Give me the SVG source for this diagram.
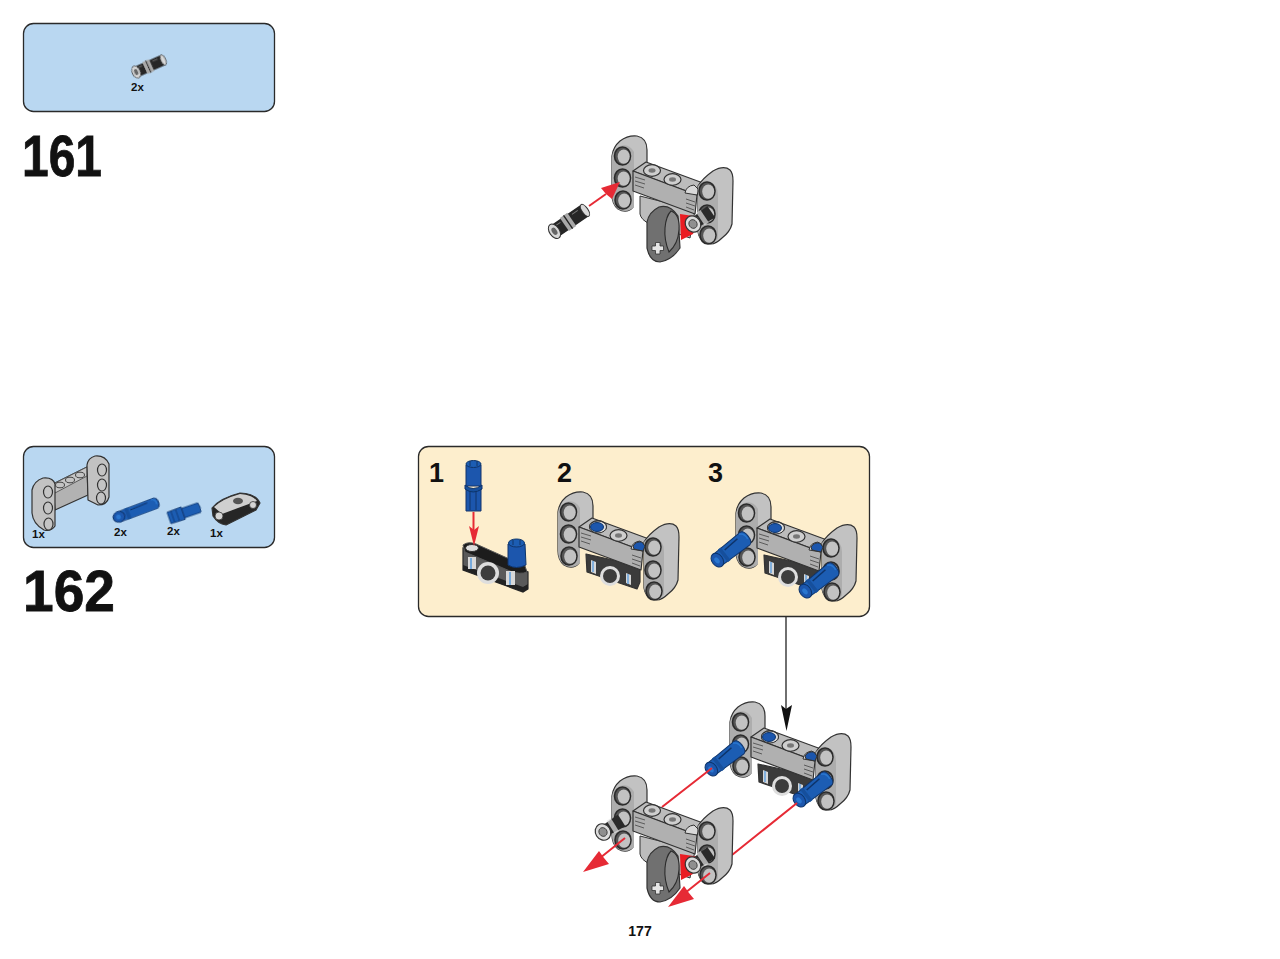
<svg xmlns="http://www.w3.org/2000/svg" xmlns:xlink="http://www.w3.org/1999/xlink" width="1280" height="959" viewBox="0 0 1280 959">
<style>
.box{stroke:#2a2a2a;stroke-width:1.3}
.blue{fill:#b9d7f1}
.cream{fill:#fdeecd}
.t{font-family:"Liberation Sans",Arial,sans-serif;font-weight:700;fill:#111}
.big{font-size:58px;stroke:#111;stroke-width:.8}
.num{font-size:27px}
.qty{font-size:11.5px}
.o{stroke:#333;stroke-width:1.2;stroke-linejoin:round}
.soft{filter:url(#soft)}
.red{stroke:#e62a35;stroke-width:2;fill:none}
.redf{fill:#e62a35}
.tick{stroke:#444;stroke-width:.8;fill:none}
</style>
<defs>
<filter id="soft" x="-5%" y="-5%" width="110%" height="110%"><feGaussianBlur stdDeviation="0.4"/></filter>
<g id="h">
<ellipse rx="8" ry="9" fill="#555" stroke="#2c2c2c" stroke-width="1.600"/>
<ellipse cx="1.200" cy=".6" rx="6" ry="7.200" fill="#c2c2c2"/>
</g>
<g id="frameBack">
<path class="o" d="M612 156Q613 147 620 141Q628 135 637 136Q647 138 647 150L647 166L633 172L633 207Q627 214 618 209Q612 204 612 195Z" fill="#c2c2c2"/>
<path d="M612 156Q613 149 620 146Q629 143 634 152L634 207Q627 214 618 209Q612 204 612 195Z" fill="#adadad"/>
<use xlink:href="#h" x="622.500" y="156"/>
<use xlink:href="#h" x="622.500" y="178"/>
<use xlink:href="#h" x="623" y="200"/>
</g>
<g id="frameFront">
<path class="o" d="M633 171L646 162L703 183L697 195Z" fill="#bcbcbc"/>
<path class="o" d="M633 171L697 195L695 214L633 191Z" fill="#b0b0b0"/>
<path class="tick" d="M635 177l10 3M635 181l10 3M635 185l9 3M686 199l9 3M686 203l9 3M686 207l8 3"/>
<ellipse cx="652" cy="170.500" rx="8.500" ry="5.800" fill="#cfcfcf" stroke="#333" stroke-width="1.200"/>
<ellipse cx="652" cy="170.500" rx="3.500" ry="2.200" fill="#777"/>
<ellipse cx="672.500" cy="179.500" rx="8.500" ry="5.800" fill="#cfcfcf" stroke="#333" stroke-width="1.200"/>
<ellipse cx="672.500" cy="179.500" rx="3.500" ry="2.200" fill="#777"/>
<path d="M685 193Q686 186 694 185L699 190L697 195Z" fill="#d8d8d8" stroke="#333"/>
<path class="o" d="M698 186Q703 178 713 171Q724 165 730 170Q733 173 733 181L732 224Q730 232 722 238Q714 246 707 243Q699 240 698 232Z" fill="#c2c2c2"/>
<path d="M698 186Q703 180 708 181Q718 184 718 195L718 238Q714 246 707 243Q699 240 698 232Z" fill="#adadad"/>
<use xlink:href="#h" x="707" y="191"/>
<use xlink:href="#h" x="707" y="214"/>
<use xlink:href="#h" x="708" y="235"/>
</g>
<g id="conn">
<path class="o" d="M640 198L641 216L691 233L694 226L694 210Z" fill="#3a3a3a"/>
<path d="M645 204l5 2v12l-5 -2zM680 217l5 2v10l-5 -2z" fill="#d6d6d6"/>
<path d="M647 205v11M682 218v10" stroke="#6ea6dc" stroke-width="1.600"/>
<circle cx="664" cy="220" r="10" fill="#dedede"/>
<circle cx="664" cy="220" r="7" fill="#3d3d3d"/>
</g>
<g id="lever">
<path d="M640 196L640 214Q641 220 650 224L690 238L695 210Z" fill="#bcbcbc" stroke="#333"/>
<path d="M680 214L700 217L693 234L681 240Z" fill="#ea1c24"/>
<path class="o" d="M647 222Q649 212 659 207Q670 204 678 216L680 248Q672 260 660 262Q650 262 647 248Z" fill="#707070"/>
<path d="M671 211Q680 214 679 230Q678 244 669 252Q664 240 665 228Q666 216 671 211Z" fill="#8a8a8a" stroke="#2c2c2c" stroke-width="1.100"/>
<path d="M652 246h3.500v-3.500h4.500v3.500h3.500v4.500h-3.500v3.500h-4.500v-3.500h-3.500z" fill="#e4e4e4" stroke="#333" stroke-width=".8"/>
</g>
<g id="stubPin">
<path d="M0 -5.500L22 -7L22 7L0 5.500Z" fill="#2b2b2b"/>
<path d="M9 -7.500h5v15h-5z" fill="#e2e2e2" opacity=".7"/>
<ellipse rx="7.500" ry="8.500" fill="#dcdcdc" stroke="#333" stroke-width="1.200"/>
<ellipse rx="4" ry="4.500" fill="#8f8f8f" stroke="#333" stroke-width=".8"/>
</g>
<g id="blackPin">
<rect x="2" y="-7" width="38" height="14" rx="2" fill="#262626"/>
<path d="M15 -8h9v16h-9z" fill="#a8a8a8"/>
<path d="M19.500 -8v16" stroke="#222" stroke-width="1.400"/>
<path d="M8 -4h5M27 -4h7" stroke="#777" stroke-width="1"/>
<ellipse cx="3" rx="5" ry="8" fill="#d8d8d8" stroke="#333"/>
<ellipse cx="3" rx="2.400" ry="4" fill="#666"/>
<ellipse cx="40" rx="3" ry="7" fill="#d8d8d8" stroke="#333"/>
</g>
<g id="bluePin">
<path d="M3 -7L38 -8Q42 -7.500 42 0Q42 7.500 38 8L3 7Z" fill="#1c5db3" stroke="#10346a" stroke-width="1"/>
<path d="M15 -3.500L32 -4.500" stroke="#10346a" stroke-width="1.600"/>
<path d="M10 -8h3.500v16h-3.500z" fill="#154f9c"/>
<ellipse cx="3" rx="5.500" ry="7.500" fill="#1a56ad" stroke="#10346a" stroke-width="1"/>
<ellipse cx="2.500" rx="2.200" ry="3.400" fill="#2a76cf"/>
<path d="M36 -7Q41 -5 40 2" stroke="#2a76cf" stroke-width="1.500" fill="none"/>
</g>
<g id="blueTop">
<ellipse cx="652" cy="171" rx="8.500" ry="6" fill="#d8d8d8" stroke="#333"/>
<ellipse cx="651" cy="171" rx="6.500" ry="4.500" fill="#1a56ad" stroke="#10346a"/>
<path d="M687 190Q690 185 696 186L699 190L697 195L688 193Z" fill="#1a56ad" stroke="#333"/>
</g>
</defs>

<g id="panel-161">
<rect class="box blue" x="23.500" y="23.500" width="251" height="88" rx="10"/>
<use class="soft" xlink:href="#blackPin" transform="translate(134 73) rotate(-24) scale(.8)"/>
<text class="t qty" x="131" y="91">2x</text>
</g>
<text id="num-161" class="t big" x="22" y="176" textLength="80" lengthAdjust="spacingAndGlyphs">161</text>

<g id="step-161" class="soft">
<use xlink:href="#frameBack"/>
<use xlink:href="#lever"/>
<use xlink:href="#frameFront"/>
<use xlink:href="#stubPin" transform="translate(693 224) rotate(-34)"/>
<use xlink:href="#blackPin" transform="translate(552 233) rotate(-34.500)"/>
<path class="red" d="M589 206L606 194"/>
<path class="redf" d="M620 182L601 188L606 194L612 199Z"/>
</g>

<g id="panel-162">
<rect class="box blue" x="23.500" y="446.500" width="251" height="101" rx="10"/>
<g id="part-frame" class="soft">
<path class="o" d="M53 484L87 467L88 495L55 510Z" fill="#b2b2b2"/>
<path d="M53 484L87 467L87 476L55 493Z" fill="#c6c6c6" stroke="#444" stroke-width=".8"/>
<path class="o" d="M87 465Q88 458 95 456Q105 455 109 464L109 497Q107 505 98 505L88 500Z" fill="#c2c2c2"/>
<path class="o" d="M32 490Q34 481 43 478Q53 477 55 484L55 526Q51 532 44 530Q33 524 32 513Z" fill="#c2c2c2"/>
<g fill="#c4c4c4" stroke="#333" stroke-width="1.200">
<ellipse cx="48" cy="492" rx="4.500" ry="6"/>
<ellipse cx="48" cy="508" rx="4.500" ry="6"/>
<ellipse cx="48.500" cy="524" rx="4.500" ry="6"/>
<ellipse cx="102" cy="470" rx="4.500" ry="6"/>
<ellipse cx="102" cy="485" rx="4.500" ry="6"/>
<ellipse cx="101" cy="498" rx="4.500" ry="6"/>
<ellipse cx="60" cy="485" rx="4.500" ry="2.800" stroke-width=".9"/>
<ellipse cx="70" cy="480" rx="4.500" ry="2.800" stroke-width=".9"/>
<ellipse cx="80" cy="475" rx="4.500" ry="2.800" stroke-width=".9"/>
</g>
</g>
<use class="soft" xlink:href="#bluePin" transform="translate(116 518) rotate(-20.500) scale(1.080 .72)"/>
<g class="soft" transform="translate(169 518) rotate(-19)">
<path d="M0 -6L15 -6.500L15 6.500L0 6Z" fill="#1c5db3" stroke="#10346a" stroke-width=".8"/>
<path d="M15 -5L32 -5Q34 0 32 5L15 5Z" fill="#1c5db3" stroke="#10346a" stroke-width=".8"/>
<path d="M4 -6v12M9 -6v12" stroke="#10346a" stroke-width=".7"/>
</g>
<g id="part-conn" class="soft">
<path class="o" d="M212 508Q220 498 240 493Q255 493 260 503L256 510L226 525Q218 524 213 516Z" fill="#262626"/>
<path d="M214 507Q222 499 240 494Q253 495 257 501L238 508L222 514Z" fill="#cfcfcf"/>
<ellipse cx="238" cy="501" rx="5" ry="3.200" fill="#555"/>
<circle cx="219" cy="516" r="4" fill="#d4d4d4" stroke="#333" stroke-width=".8"/>
<circle cx="253" cy="505" r="3.500" fill="#d4d4d4" stroke="#333" stroke-width=".8"/>
</g>
<text class="t qty" x="32" y="538">1x</text>
<text class="t qty" x="114" y="536">2x</text>
<text class="t qty" x="167" y="535">2x</text>
<text class="t qty" x="210" y="537">1x</text>
</g>
<text id="num-162" class="t big" x="23" y="611" textLength="92" lengthAdjust="spacingAndGlyphs">162</text>

<g id="callout">
<rect class="box cream" x="418.500" y="446.500" width="451" height="170" rx="10"/>
<text class="t num" x="429" y="482">1</text>
<text class="t num" x="557" y="482">2</text>
<text class="t num" x="708" y="482">3</text>
<g id="sub-1" class="soft">
<path d="M463 548L463 570L523 592L528 589L528 572L480 550Z" fill="#5a5a5a" stroke="#2a2a2a" stroke-width="1.200"/>
<path d="M463 570L523 592L528 589L528 584L523 587L463 565Z" fill="#222"/>
<path d="M463 545Q468 541 476 544L525 566L527 572Q520 575 510 571L465 552Z" fill="#1d1d1d" stroke="#555"/>
<ellipse cx="472" cy="548" rx="6.500" ry="3.500" fill="#ddd" stroke="#333"/>
<path d="M468 557h8v12h-8zM506 571h9v14h-9z" fill="#d8d8d8"/>
<path d="M471 558v11M510 572v13" stroke="#6ea6dc" stroke-width="1.800"/>
<circle cx="488" cy="573" r="11" fill="#dedede"/>
<circle cx="488" cy="573" r="7.500" fill="#3d3d3d"/>
<path d="M508 544L508 565Q516 570 526 565L525 544Z" fill="#1a56ad" stroke="#10346a"/>
<ellipse cx="516.500" cy="543" rx="8" ry="4" fill="#1c5db3" stroke="#10346a"/>
<path d="M513 540v5M520 540v5" stroke="#10346a"/>
<path d="M466 489L466 511L481 511L481 489Z" fill="#1a56ad" stroke="#10346a"/>
<path d="M470 490v20M476 490v20" stroke="#10346a"/>
<path d="M465 485Q473 492 482 485L482 489Q473 495 465 489Z" fill="#154f9c" stroke="#10346a"/>
<path d="M466 465L466 486L481 486L481 465Z" fill="#1a56ad" stroke="#10346a"/>
<ellipse cx="473.500" cy="464" rx="7.500" ry="3.500" fill="#1c5db3" stroke="#10346a"/>
<path d="M470 461v5M477 461v5" stroke="#10346a"/>
<path class="red" d="M473.500 512V530"/>
<path class="redf" d="M474 546L469 526L474 530L479 526Z"/>
</g>
<g id="sub-2" class="soft" transform="translate(-54 356)">
<use xlink:href="#frameBack"/>
<use xlink:href="#conn"/>
<use xlink:href="#frameFront"/>
<use xlink:href="#blueTop"/>
</g>
<g id="sub-3" class="soft" transform="translate(124 357)">
<use xlink:href="#frameBack"/>
<use xlink:href="#conn"/>
<use xlink:href="#frameFront"/>
<use xlink:href="#blueTop"/>
<use xlink:href="#bluePin" transform="translate(591 205) rotate(-38)"/>
<use xlink:href="#bluePin" transform="translate(679 236) rotate(-38)"/>
</g>
</g>

<g id="connectors">
<path d="M786 617V712" stroke="#222" stroke-width="1.300" fill="none"/>
<path d="M786.500 731L781 705L786 709L792 705Z" fill="#111"/>
</g>

<g id="step-162-result" class="soft">
<g transform="translate(118 566)">
<use xlink:href="#frameBack"/>
<use xlink:href="#conn"/>
<use xlink:href="#frameFront"/>
<use xlink:href="#blueTop"/>
<use xlink:href="#bluePin" transform="translate(591 205) rotate(-38)"/>
<use xlink:href="#bluePin" transform="translate(679 236) rotate(-38)"/>
</g>
<path class="red" d="M712 768L662 807M797 803L732 855"/>
<g transform="translate(0 640)">
<use xlink:href="#frameBack"/>
<use xlink:href="#lever"/>
<use xlink:href="#frameFront"/>
<use xlink:href="#stubPin" transform="translate(603 192) rotate(-32)"/>
<use xlink:href="#stubPin" transform="translate(693 225) rotate(-34)"/>
</g>
<path class="red" d="M625 838L600 858M710 873L685 893"/>
<path class="redf" d="M583 872L599 851L604 858L609 864Z"/>
<path class="redf" d="M668 907L684 886L689 893L694 899Z"/>
</g>

<text id="page-number" class="t" font-size="14" x="640" y="936" text-anchor="middle">177</text>
</svg>
